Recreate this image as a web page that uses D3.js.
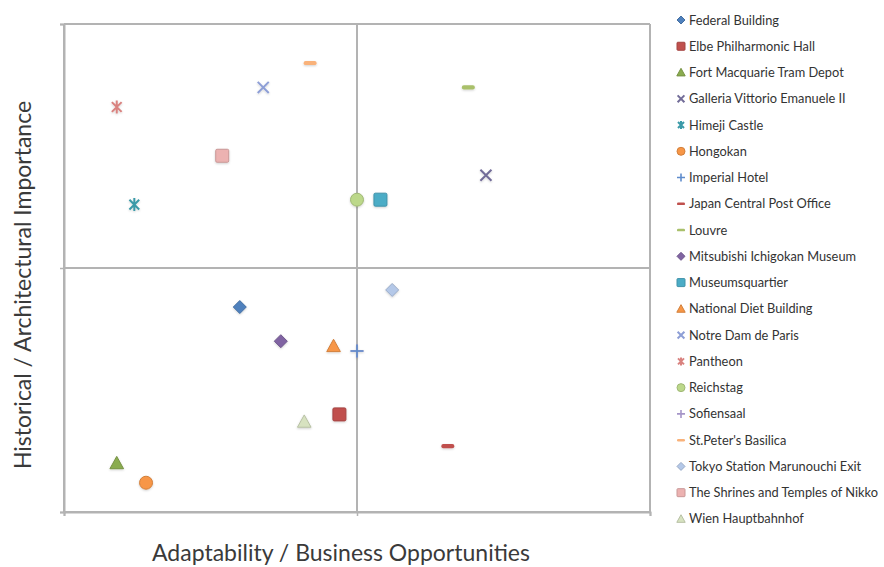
<!DOCTYPE html>
<html>
<head>
<meta charset="utf-8">
<script src="https://cdn.jsdelivr.net/npm/d3@7"></script>
<style>
  html, body { margin: 0; padding: 0; background: #fff; }
  svg { display: block; font-family: Lato, "Open Sans", sans-serif; }
</style>
</head>
<body>
<svg id="chart" width="884" height="567"></svg>
<script>
// Buildings positioned by adaptability (x) and historical importance (y)
const buildings = [
  "Federal Building", "Elbe Philharmonic Hall", "Fort Macquarie Tram Depot",
  "Galleria Vittorio Emanuele II", "Himeji Castle", "Hongokan", "Imperial Hotel",
  "Japan Central Post Office", "Louvre", "Mitsubishi Ichigokan Museum",
  "Museumsquartier", "National Diet Building", "Notre Dam de Paris", "Pantheon",
  "Reichstag", "Sofiensaal", "St.Peter's Basilica", "Tokyo Station Marunouchi Exit",
  "The Shrines and Temples of Nikko", "Wien Hauptbahnhof"
];
const adaptability = [-4.0, -0.6, -8.2, 4.4, -7.6, -7.2, 0.0, 3.1, 3.8, -2.6,
                       0.8, -0.8, -3.2, -8.2, 0.0, 0.0, -1.6, 1.2, -4.6, -1.8];
const importance   = [-1.6, -6.0, -8.0, 3.8, 2.6, -8.8, -3.4, -7.3, 7.4, -3.0,
                       2.8, -3.2, 7.4, 6.6, 2.8, -3.4, 8.4, -0.9, 4.6, -6.3];
const axisTicks = [-10, 0, 10];

// Marker style per series
const markerShapes = ["diamond", "square", "triangle", "x", "star", "circle", "plus",
  "dash", "dash", "diamond", "square", "triangle", "x", "star", "circle", "plus",
  "dash", "diamond", "square", "triangle"];
const markerColors = ["#4f81bd", "#c0504d", "#8aac4f", "#726c98", "#3b9aa8", "#f79646",
  "#5f8ccc", "#c0504d", "#a9c06b", "#8064a2", "#4bacc6", "#f79646", "#8e9fd6",
  "#d9827f", "#bcd88a", "#a595c8", "#f9b27a", "#b4c8e8", "#ecb2b1", "#d7e2c0"];

const svg = d3.select("#chart");
const plot = { left: 64, right: 650, top: 24, bottom: 512 };

const x = d3.scaleLinear().domain([-10, 10]).range([plot.left, plot.right]);
const y = d3.scaleLinear().domain([-10, 10]).range([plot.bottom, plot.top]);

// Soft shadow under the markers
const defs = svg.append("defs");
const f = defs.append("filter").attr("id", "shadow")
  .attr("x", "-50%").attr("y", "-50%").attr("width", "200%").attr("height", "200%");
f.append("feDropShadow").attr("dx", 0).attr("dy", 1).attr("stdDeviation", 1.2)
  .attr("flood-color", "#000").attr("flood-opacity", 0.18);

function markerPath(shape, r) {
  switch (shape) {
    case "diamond": return `M0,${-r}L${r},0L0,${r}L${-r},0Z`;
    case "triangle": return `M0,${-r * 1.05}L${r * 1.05},${r * 0.85}L${-r * 1.05},${r * 0.85}Z`;
    case "x": { const a = r * 0.85; return `M${-a},${-a}L${a},${a}M${-a},${a}L${a},${-a}`; }
    case "star": { const a = r * 0.75; return `M${-a},${-a}L${a},${a}M${-a},${a}L${a},${-a}M0,${-r}L0,${r}`; }
    case "plus": return `M${-r},0L${r},0M0,${-r}L0,${r}`;
    default: return "";
  }
}

function drawMarker(g, shape, color, r) {
  const dark = d3.color(color).darker(0.45).formatHex();
  if (shape === "circle") {
    g.append("circle").attr("r", r).attr("fill", color).attr("stroke", dark).attr("stroke-width", 1);
  } else if (shape === "square") {
    g.append("rect").attr("x", -r).attr("y", -r).attr("width", 2 * r).attr("height", 2 * r)
      .attr("rx", r * 0.2).attr("fill", color).attr("stroke", dark).attr("stroke-width", 1);
  } else if (shape === "dash") {
    g.append("rect").attr("x", -r).attr("y", -r * 0.32).attr("width", 2 * r).attr("height", r * 0.64)
      .attr("rx", r * 0.3).attr("fill", color);
  } else if (shape === "diamond" || shape === "triangle") {
    g.append("path").attr("d", markerPath(shape, r)).attr("fill", color)
      .attr("stroke", dark).attr("stroke-width", 1).attr("stroke-linejoin", "round");
  } else {
    g.append("path").attr("d", markerPath(shape, r)).attr("fill", "none")
      .attr("stroke", color).attr("stroke-width", shape === "plus" ? 1.6 : 2);
  }
}

// Gridlines at the major units (frame and quadrant dividers)
const grid = svg.append("g").attr("stroke", "#b3b3b3").attr("stroke-width", 2).attr("fill", "none");
grid.selectAll("line.v").data(axisTicks).join("line").attr("class", "v")
  .attr("x1", d => x(d)).attr("x2", d => x(d)).attr("y1", plot.top).attr("y2", plot.bottom);
grid.selectAll("line.h").data(axisTicks).join("line").attr("class", "h")
  .attr("y1", d => y(d)).attr("y2", d => y(d)).attr("x1", plot.left).attr("x2", plot.right);

// Axes with outward tick marks and no labels
const xAxis = svg.append("g").attr("transform", `translate(0,${plot.bottom})`)
  .call(d3.axisBottom(x).tickValues(axisTicks).tickSize(4).tickFormat(""));
const yAxis = svg.append("g").attr("transform", `translate(${plot.left},0)`)
  .call(d3.axisLeft(y).tickValues(axisTicks).tickSize(4).tickFormat(""));
[xAxis, yAxis].forEach(a => {
  a.select(".domain").attr("stroke", "#b3b3b3").attr("stroke-width", 2);
  a.selectAll(".tick line").attr("stroke", "#b3b3b3").attr("stroke-width", 1.5);
});

// Points (earlier series drawn last so they sit on top)
const pts = svg.append("g").attr("filter", "url(#shadow)");
d3.range(buildings.length).reverse().forEach(i => {
  const g = pts.append("g").attr("transform", `translate(${x(adaptability[i])},${y(importance[i])})`);
  drawMarker(g, markerShapes[i], markerColors[i], 6.5);
});

// Axis titles
svg.append("text").attr("x", 341).attr("y", 561)
  .attr("text-anchor", "middle").attr("font-size", 23).attr("fill", "#3a3a3a")
  .text("Adaptability / Business Opportunities");
svg.append("text").attr("transform", `translate(31,285) rotate(-90)`)
  .attr("text-anchor", "middle").attr("font-size", 23).attr("fill", "#3a3a3a")
  .text("Historical / Architectural Importance");

// Legend
const legend = svg.append("g").attr("transform", "translate(681,20)");
buildings.forEach((name, i) => {
  const row = legend.append("g").attr("transform", `translate(0,${i * 26.26})`);
  const m = row.append("g");
  drawMarker(m, markerShapes[i], markerColors[i], 4);
  row.append("text").attr("x", 8).attr("y", 4.5).attr("font-size", 12.8)
    .attr("fill", "#333").text(name);
});
</script>
</body>
</html>
